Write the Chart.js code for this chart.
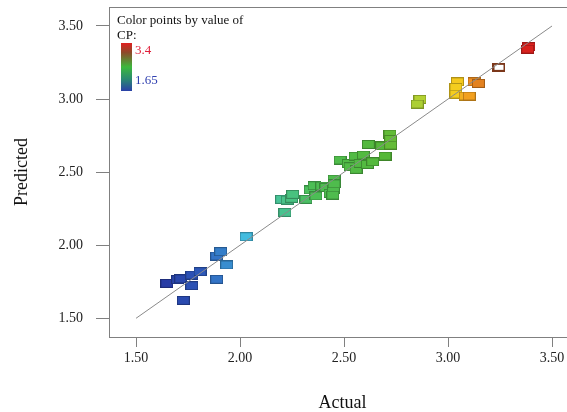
<!DOCTYPE html>
<html>
<head>
<meta charset="utf-8">
<script src="https://cdn.jsdelivr.net/npm/chart.js@4.4.1/dist/chart.umd.min.js"></script>
<style>
  html, body { margin: 0; padding: 0; background: #fff; }
  #wrap { width: 567px; height: 412px; position: relative; }
</style>
</head>
<body>
<div id="wrap"><canvas id="fit_chart"></canvas></div>
<script>
// actual vs predicted CP
const actual = [
  1.648, 1.700, 1.715, 1.768, 1.808, 1.768, 1.727, 1.888, 1.888, 1.907, 1.936, 2.029,
  2.216, 2.200, 2.227, 2.248, 2.253, 2.317, 2.337, 2.356, 2.365, 2.393, 2.413, 2.433,
  2.449, 2.446, 2.452, 2.452, 2.481, 2.521, 2.529, 2.558, 2.553, 2.593, 2.577, 2.612,
  2.638, 2.617, 2.681, 2.697, 2.721, 2.724, 2.724,
  2.865, 2.852, 3.045, 3.038, 3.038, 3.082, 3.102, 3.125, 3.146, 3.245, 3.389, 3.383
];
const predicted = [
  1.739, 1.765, 1.770, 1.796, 1.819, 1.723, 1.623, 1.767, 1.926, 1.956, 1.865, 2.058,
  2.225, 2.314, 2.309, 2.321, 2.348, 2.314, 2.378, 2.407, 2.337, 2.405, 2.396, 2.355,
  2.378, 2.343, 2.453, 2.420, 2.583, 2.560, 2.537, 2.519, 2.610, 2.617, 2.560, 2.553,
  2.571, 2.690, 2.679, 2.610, 2.761, 2.724, 2.685,
  2.998, 2.966, 3.118, 3.080, 3.034, 3.021, 3.021, 3.118, 3.107, 3.217, 3.358, 3.342
];
const tick_values = [1.5, 2.0, 2.5, 3.0, 3.5];
const fit_line = [1.5, 3.5];
const cp_low = 1.65;
const cp_high = 3.4;
const hollow_point = 52;

const serif = "'Liberation Serif', 'Times New Roman', serif";

// colour ramp used by the plot (value -> rgb)
const ramp = [
  [1.65, [40, 60, 165]],
  [1.85, [46, 96, 190]],
  [1.95, [58, 148, 210]],
  [2.05, [70, 198, 226]],
  [2.2, [72, 196, 150]],
  [2.35, [76, 190, 86]],
  [2.7, [86, 184, 56]],
  [2.87, [182, 210, 50]],
  [3.04, [245, 205, 30]],
  [3.13, [240, 140, 32]],
  [3.25, [140, 62, 30]],
  [3.4, [226, 30, 30]],
];

const ramp_color = (v, k = 1) => {
  let c = ramp[ramp.length - 1][1];
  if (v <= ramp[0][0]) c = ramp[0][1];
  for (let i = 0; i < ramp.length - 1; i++) {
    const [v0, c0] = ramp[i];
    const [v1, c1] = ramp[i + 1];
    if (v >= v0 && v <= v1) {
      const t = (v - v0) / (v1 - v0);
      c = c0.map((a, j) => a + (c1[j] - a) * t);
      break;
    }
  }
  return `rgb(${c.map((a) => Math.round(a * k)).join(",")})`;
};

const make_rect = (fill, stroke, lw = 1) => {
  const cv = document.createElement("canvas");
  cv.width = 13;
  cv.height = 9;
  const c = cv.getContext("2d");
  c.fillStyle = fill;
  c.fillRect(1, 1, 11, 7);
  c.strokeStyle = stroke;
  c.lineWidth = lw;
  c.strokeRect(lw / 2, lw / 2, 13 - lw, 9 - lw);
  return cv;
};

const point_styles = actual.map((a, i) => {
  if (i === hollow_point) return make_rect("#ffffff", ramp_color(a, 0.85), 2);
  return make_rect(ramp_color(a), ramp_color(a, 0.72));
});

const frame_and_key = {
  id: "frame_and_key",
  afterDraw(chart) {
    const { ctx, chartArea } = chart;
    ctx.save();
    // top frame line
    ctx.strokeStyle = "#808080";
    ctx.lineWidth = 1;
    ctx.beginPath();
    ctx.moveTo(chartArea.left, chartArea.top + 0.5);
    ctx.lineTo(chartArea.right, chartArea.top + 0.5);
    ctx.stroke();

    // colour key
    ctx.font = `13px ${serif}`;
    ctx.fillStyle = "#111";
    ctx.textBaseline = "alphabetic";
    ctx.textAlign = "left";
    ctx.fillText("Color points by value of", 117, 24);
    ctx.fillText("CP:", 117, 39);

    const g = ctx.createLinearGradient(0, 43, 0, 91);
    g.addColorStop(0, "#e02020");
    g.addColorStop(0.2, "#8c4a2a");
    g.addColorStop(0.5, "#3cb83c");
    g.addColorStop(0.75, "#2a8a70");
    g.addColorStop(1, "#2a40a8");
    ctx.fillStyle = g;
    ctx.fillRect(121, 43, 11, 48);

    ctx.textBaseline = "middle";
    ctx.fillStyle = "#e0203a";
    ctx.fillText(String(cp_high), 135, 51);
    ctx.fillStyle = "#3040b0";
    ctx.fillText(String(cp_low), 135, 81);
    ctx.restore();
  },
};

const data_fit = {
  datasets: [
    {
      type: "line",
      data: fit_line.map((v) => ({ x: v, y: v })),
      borderColor: "#8a8a8a",
      borderWidth: 1,
      pointRadius: 0,
      order: 0,
    },
    {
      type: "scatter",
      data: actual.map((a, i) => ({ x: a, y: predicted[i] })),
      pointStyle: point_styles,
      pointRadius: 6,
      order: 1,
    },
  ],
};

const axis_common = {
  grid: { drawOnChartArea: false, color: "#808080", tickColor: "#808080" },
  border: { color: "#808080" },
  afterBuildTicks: (scale) => {
    scale.ticks = tick_values.map((v) => ({ value: v }));
  },
};

const no_pad = (scale) => {
  scale.paddingLeft = 0;
  scale.paddingRight = 0;
  scale.paddingTop = 0;
  scale.paddingBottom = 0;
};

const config_fit = {
  data: data_fit,
  options: {
    responsive: true,
    maintainAspectRatio: false,
    animation: false,
    layout: { autoPadding: false, padding: { top: 7, right: 0, left: 0, bottom: 0 } },
    plugins: { legend: { display: false }, tooltip: { enabled: false } },
    scales: {
      x: {
        ...axis_common,
        type: "linear",
        min: 1.37,
        max: 3.572,
        grid: { ...axis_common.grid, tickLength: 10 },
        ticks: {
          padding: 3,
          color: "#222",
          font: { family: serif, size: 14 },
          callback: (v) => Number(v).toFixed(2),
        },
        title: {
          display: true,
          text: "  Actual",
          color: "#111",
          font: { family: serif, size: 18, lineHeight: 1 },
          padding: { top: 0, bottom: 0 },
        },
        afterFit: (scale) => { scale.height = 75; no_pad(scale); },
      },
      y: {
        ...axis_common,
        type: "linear",
        min: 1.372,
        max: 3.63,
        grid: { ...axis_common.grid, tickLength: 13 },
        ticks: {
          padding: 13,
          color: "#222",
          font: { family: serif, size: 14 },
          callback: (v) => Number(v).toFixed(2),
        },
        title: {
          display: true,
          text: "Predicted",
          color: "#111",
          font: { family: serif, size: 18, lineHeight: 1.2 },
          padding: { top: 11, bottom: 0 },
        },
        afterFit: (scale) => { scale.width = 109; no_pad(scale); },
      },
    },
  },
  plugins: [frame_and_key],
};

var ctx_fit = document.getElementById("fit_chart");
var fit_chart = new Chart(ctx_fit, config_fit);
</script>
</body>
</html>
